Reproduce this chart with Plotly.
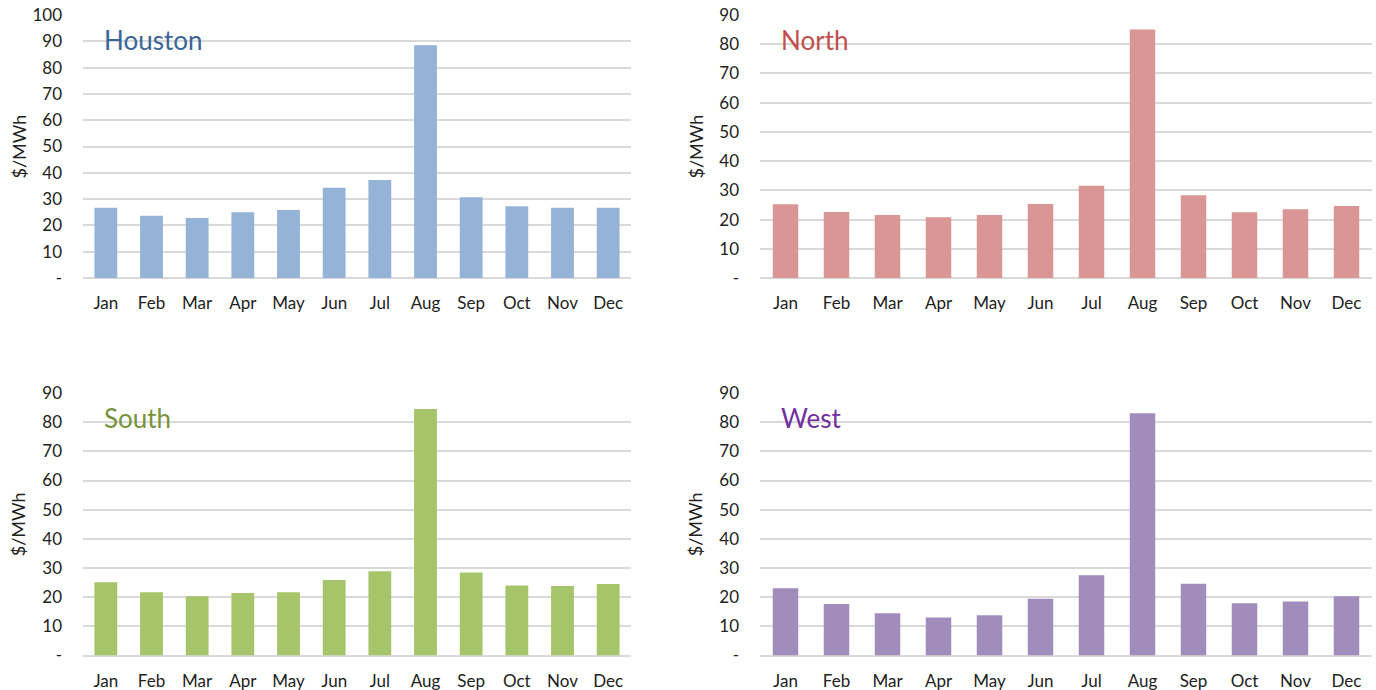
import plotly.graph_objects as go

months = ["Jan", "Feb", "Mar", "Apr", "May", "Jun",
          "Jul", "Aug", "Sep", "Oct", "Nov", "Dec"]

houston = [26.7, 23.7, 22.8, 25.0, 25.9, 34.3, 37.3, 88.5, 30.7, 27.3, 26.7, 26.7]
north = [25.2, 22.6, 21.6, 20.8, 21.6, 25.3, 31.6, 85.0, 28.3, 22.5, 23.5, 24.6]
south = [25.1, 21.7, 20.3, 21.4, 21.7, 25.9, 28.9, 84.5, 28.5, 24.0, 23.8, 24.5]
west = [23.1, 17.7, 14.5, 13.0, 13.8, 19.5, 27.5, 83.1, 24.6, 17.9, 18.5, 20.3]

regions = ["Houston", "North", "South", "West"]
bar_colors = ["#95B3D7", "#D99694", "#A6C56B", "#A18DBC"]
title_colors = ["#3A6598", "#C0504D", "#77933C", "#7030A0"]
y_max = [100, 90, 90, 90]
series = [houston, north, south, west]

FONT = "Lato, Calibri, 'Open Sans', sans-serif"
W, H = 1376, 690

# panel rectangles in pixels: (left, right, top, bottom)
panels = [
    (83, 631, 15, 278),
    (760, 1372, 15, 278),
    (83, 631, 393, 655.5),
    (760, 1372, 393, 655.5),
]

fig = go.Figure()
annotations = []

for i, (name, vals) in enumerate(zip(regions, series)):
    left, right, top, bottom = panels[i]
    sfx = "" if i == 0 else str(i + 1)
    fig.add_trace(go.Bar(
        x=months, y=vals, name=name,
        marker=dict(color=bar_colors[i], line=dict(width=0)),
        xaxis="x" + sfx, yaxis="y" + sfx,
        showlegend=False,
    ))
    ticks = list(range(0, y_max[i] + 1, 10))
    ticktext = ["-"] + [str(t) for t in ticks[1:]]
    fig.layout["xaxis" + sfx] = dict(
        domain=[left / W, right / W],
        anchor="y" + sfx,
        showgrid=False, zeroline=False,
        showline=False, automargin=False,
        ticks="", ticklabelstandoff=13,
        tickfont=dict(family=FONT, size=17, color="#222222"),
        fixedrange=True,
    )
    fig.layout["yaxis" + sfx] = dict(
        domain=[(H - bottom) / H, (H - top) / H],
        anchor="x" + sfx,
        range=[0, y_max[i]],
        tickvals=ticks, ticktext=ticktext,
        showgrid=True, gridcolor="#D9D9D9", gridwidth=2,
        zeroline=True, zerolinecolor="#D9D9D9", zerolinewidth=2,
        showline=False, automargin=False,
        ticks="", ticklabelstandoff=20,
        tickfont=dict(family=FONT, size=17, color="#222222"),
        fixedrange=True,
    )
    # region name inside the panel
    annotations.append(dict(
        text=name, xref="paper", yref="paper",
        x=(left + 19) / W, y=(H - 40) / H if i < 2 else (H - 418) / H,
        xanchor="left", yanchor="middle", showarrow=False,
        font=dict(family=FONT, size=26, color=title_colors[i]),
    ))
    # y-axis unit label
    annotations.append(dict(
        text="$/MWh", xref="paper", yref="paper",
        x=(left - 65) / W, y=(H - (top + bottom) / 2) / H,
        xanchor="center", yanchor="middle", textangle=-90, showarrow=False,
        font=dict(family=FONT, size=18, color="#222222"),
    ))

fig.update_layout(
    width=W, height=H,
    margin=dict(l=0, r=0, t=0, b=0, autoexpand=False),
    paper_bgcolor="white", plot_bgcolor="white",
    bargap=0.5,
    annotations=annotations,
)

fig.write_html("out.html")
